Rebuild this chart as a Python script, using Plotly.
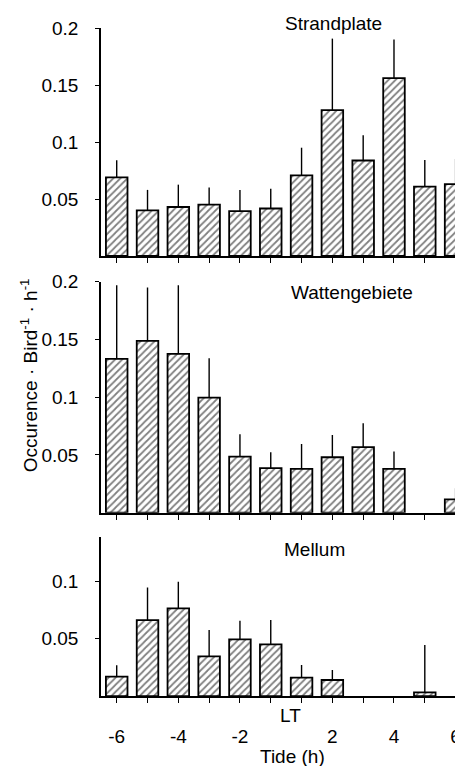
import plotly.graph_objects as go

hours = ["-6", "-5", "-4", "-3", "-2", "-1", "1", "2", "3", "4", "5", "6"]
tick_labels = ["-6", "", "-4", "", "-2", "", "", "2", "", "4", "", "6"]

strand_vals = [0.069, 0.040, 0.043, 0.045, 0.0394, 0.0417, 0.0707, 0.128, 0.0838, 0.156, 0.0609, 0.063]
strand_err = [0.015, 0.018, 0.0196, 0.015, 0.0186, 0.0172, 0.0243, 0.0627, 0.0222, 0.034, 0.0234, 0.022]

watt_vals = [0.1332, 0.1488, 0.1375, 0.0997, 0.0485, 0.0385, 0.0379, 0.048, 0.0567, 0.0379, None, 0.0116]
watt_err = [0.0638, 0.0462, 0.0595, 0.0341, 0.0195, 0.0138, 0.0216, 0.0193, 0.0208, 0.015, None, 0.0095]

mell_vals = [0.0169, 0.0663, 0.0765, 0.0346, 0.0495, 0.0451, 0.016, 0.014, None, None, 0.0032, None]
mell_err = [0.0099, 0.0285, 0.0233, 0.023, 0.0162, 0.0212, 0.011, 0.0087, None, None, 0.0413, None]

panel_titles = ["Strandplate", "Wattengebiete", "Mellum"]

FONT = "Liberation Sans"
FS = 19
xpos = list(range(len(hours)))

fig = go.Figure()

panels = [(strand_vals, strand_err, "x", "y"),
          (watt_vals, watt_err, "x2", "y2"),
          (mell_vals, mell_err, "x3", "y3")]

for vals, errs, xa, ya in panels:
    fig.add_trace(go.Bar(
        x=xpos, y=vals, xaxis=xa, yaxis=ya, width=0.7,
        marker=dict(color="white", line=dict(color="black", width=1.8),
                    pattern=dict(shape="/", fgcolor="black", bgcolor="white",
                                 size=5, solidity=0.35)),
        error_y=dict(type="data", symmetric=False, array=errs,
                     arrayminus=[0] * len(errs), color="black",
                     thickness=1.4, width=0),
        showlegend=False, hoverinfo="skip",
    ))


def xax(anchor, **kw):
    d = dict(range=[-0.51, 11.24], showline=True, linecolor="black", linewidth=2,
             ticks="outside", ticklen=5, tickwidth=1.4, tickcolor="black",
             tickvals=xpos, showgrid=False, zeroline=False, domain=[0, 1],
             anchor=anchor, automargin=False)
    d.update(kw)
    return d


def yax(anchor, **kw):
    d = dict(showline=True, linecolor="black", linewidth=1.6, ticks="outside",
             ticklen=4, tickwidth=1.4, tickcolor="black", showgrid=False,
             zeroline=False, tickfont=dict(family=FONT, size=FS, color="black"),
             ticklabelstandoff=13, anchor=anchor, automargin=False)
    d.update(kw)
    return d


fig.update_layout(
    width=455, height=758,
    margin=dict(l=93, r=0, t=0, b=0, autoexpand=False),
    paper_bgcolor="white", plot_bgcolor="white",
    font=dict(family=FONT, size=FS, color="black"),
    xaxis=xax("y", showticklabels=False),
    xaxis2=xax("y2", showticklabels=False),
    xaxis3=xax("y3", ticktext=tick_labels,
               tickfont=dict(family=FONT, size=FS, color="black"),
               ticklabelstandoff=17),
    yaxis=yax("x", domain=[0.6728, 0.9736], range=[0, 0.2],
              tickvals=[0.05, 0.1, 0.15, 0.2], ticktext=["0.05", "0.1", "0.15", "0.2"]),
    yaxis2=yax("x2", domain=[0.3342, 0.6389], range=[0, 0.2],
               tickvals=[0.05, 0.1, 0.15, 0.2], ticktext=["0.05", "0.1", "0.15", "0.2"]),
    yaxis3=yax("x3", domain=[0.0923, 0.3025], range=[0, 0.139],
               tickvals=[0.05, 0.1], ticktext=["0.05", "0.1"]),
)

ann_font = dict(family=FONT, size=FS, color="black")
title_pos = [(0.641, 0.9802), (0.693, 0.6253), (0.591, 0.285)]
for t, (px, py) in zip(panel_titles, title_pos):
    fig.add_annotation(text=t, x=px, y=py, xref="paper", yref="paper",
                       xanchor="center", yanchor="middle",
                       showarrow=False, font=ann_font)

fig.add_annotation(text="LT", x=5.65, xref="x3", y=0.066, yref="paper",
                   xanchor="center", yanchor="middle", showarrow=False, font=ann_font)
fig.add_annotation(text="Tide (h)", x=0.530, y=0.0119, xref="paper", yref="paper",
                   xanchor="center", yanchor="middle", showarrow=False, font=ann_font)
fig.add_annotation(text="Occurence · Bird<sup>-1</sup> · h<sup>-1</sup>", textangle=-90,
                   x=-0.198, y=0.516, xref="paper", yref="paper", showarrow=False,
                   xanchor="center", yanchor="middle", font=ann_font)

fig.write_html("out.html")
